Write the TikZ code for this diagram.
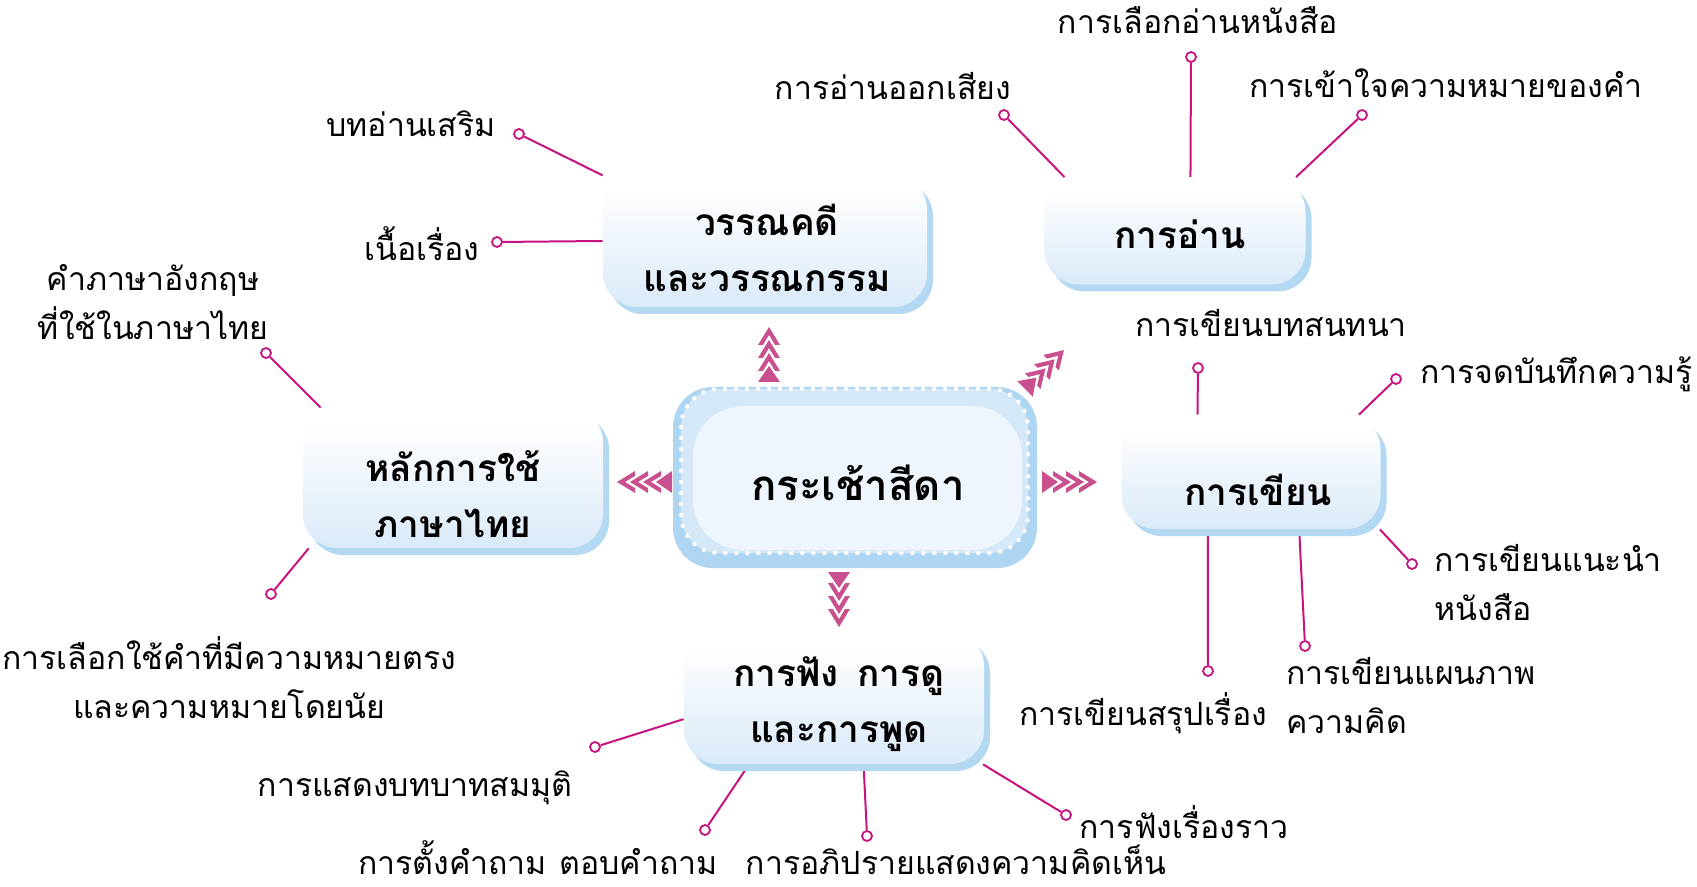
\documentclass[tikz,border=0pt]{standalone}
\usepackage{fontspec}
\newfontfamily\thai[Script=Thai]{Loma}
\usetikzlibrary{shadows,backgrounds,positioning}

\definecolor{spokepink}{HTML}{C8127F}
\definecolor{chevpink}{HTML}{C9508F}
\definecolor{boxlow}{HTML}{DAEAF8}
\definecolor{boxshade}{HTML}{B3D8F2}
\definecolor{ctrout}{HTML}{AED5F1}
\definecolor{ctrband}{HTML}{D4E8F7}
\definecolor{ctrin}{HTML}{EEF5FD}

% white on top, pale blue at the bottom
\pgfdeclareverticalshading{topicfade}{100bp}{color(0bp)=(boxlow); color(25bp)=(boxlow); color(70bp)=(white); color(100bp)=(white)}

\tikzset{
  topic/.style={rounded corners=17pt, shade, shading=topicfade,
    general shadow={fill=boxshade, shadow xshift=3pt, shadow yshift=-3.5pt}},
  topictext/.style={align=center, inner sep=0pt, font=\thai\bfseries\fontsize{18.5}{28}\selectfont},
  ctrtext/.style={inner sep=0pt, font=\thai\bfseries\fontsize{21}{26}\selectfont},
  lbl/.style={inner sep=0pt, align=center, font=\thai\fontsize{16}{24.5}\selectfont},
  dot/.style={circle, draw=spokepink, fill=white, line width=0.9pt, inner sep=0pt, minimum size=5pt},
  spoke/.style={draw=spokepink, line width=1pt},
  chevs/.pic={
    \fill[chevpink] (0,-11) -- (16,0) -- (0,11) -- cycle;
    \foreach \a in {11,24,37}
      \fill[chevpink] (\a,-11) -- (\a+18,0) -- (\a,11) -- (\a,6.1) -- (\a+10,0) -- (\a,-6.1) -- cycle;
  }
}

\begin{document}
\begin{tikzpicture}[x=0.5pt,y=-0.5pt]
\useasboundingbox (0,0) rectangle (1697,887);

% centre box
\fill[ctrout, rounded corners=20pt] (673,387) rectangle (1037,568);
\filldraw[fill=ctrband, draw=white, line width=2.2pt, dash pattern=on 0pt off 5.5pt, line cap=round, rounded corners=19pt] (681,389) rectangle (1028,553);
\fill[ctrin, rounded corners=25pt] (693,406) rectangle (1022,550);
\node[ctrtext] (ctr) at (858,483) {กระเช้าสีดา};

% topics
\node[topic, minimum width=162pt, minimum height=66pt] (lit) at (765,241) {};
\node[topic, minimum width=130.5pt, minimum height=53.5pt] (read) at (1175,231) {};
\node[topic, minimum width=150pt, minimum height=70pt] (lang) at (453,478) {};
\node[topic, minimum width=129.5pt, minimum height=57pt] (write) at (1251,472) {};
\node[topic, minimum width=150pt, minimum height=66pt] (talk) at (834,698) {};
\node[topictext] (lit-t) at (767,248) {วรรณคดี\\และวรรณกรรม};
\node[topictext] (read-t) at (1180,234) {การอ่าน};
\node[topictext] (lang-t) at (453,494) {หลักการใช้\\ภาษาไทย};
\node[topictext] (write-t) at (1258,490) {การเขียน};
\node[topictext] (talk-t) at (839,704) {การฟัง\hspace{0.5em}การดู\\และการพูด};

% chevrons
\pic[rotate=90] at (769,382) {chevs};
\pic[rotate=-90] at (839,572) {chevs};
\pic[rotate=180] at (672,482) {chevs};
\pic at (1042,482) {chevs};
\pic[rotate=45] at (1025,389) {chevs};

% end dots
\node[dot] (d-bt) at (519,134) {};
\node[dot] (d-nr) at (497,242) {};
\node[dot] (d-ao) at (1004,115) {};
\node[dot] (d-lk) at (1191,57) {};
\node[dot] (d-kk) at (1362,115) {};
\node[dot] (d-en) at (266,353) {};
\node[dot] (d-ch) at (271,594) {};
\node[dot] (d-bs) at (1198,368) {};
\node[dot] (d-jd) at (1396,379) {};
\node[dot] (d-nn) at (1412,564) {};
\node[dot] (d-pp) at (1305,646) {};
\node[dot] (d-sr) at (1208,671) {};
\node[dot] (d-bb) at (595,747) {};
\node[dot] (d-tk) at (705,830) {};
\node[dot] (d-op) at (867,836) {};
\node[dot] (d-fr) at (1066,815) {};

% labels
\node[lbl] (l-bt) at (411,124) {บทอ่านเสริม};
\node[lbl] (l-nr) at (422,244) {เนื้อเรื่อง};
\node[lbl] (l-ao) at (893,86) {การอ่านออกเสียง};
\node[lbl] (l-lk) at (1198,20) {การเลือกอ่านหนังสือ};
\node[lbl] (l-kk) at (1446,83) {การเข้าใจความหมายของคำ};
\node[lbl] (l-en) at (153,302) {คำภาษาอังกฤษ\\ที่ใช้ในภาษาไทย};
\node[lbl, anchor=west] (l-ch) at (2,678) {การเลือกใช้คำที่มีความหมายตรง\\และความหมายโดยนัย};
\node[lbl] (l-bs) at (1271,323) {การเขียนบทสนทนา};
\node[lbl, anchor=west] (l-jd) at (1420,374) {การจดบันทึกความรู้};
\node[lbl, anchor=west, align=left] (l-nn) at (1434,583) {การเขียนแนะนำ\\หนังสือ};
\node[lbl, anchor=west, align=left] (l-pp) at (1286,696) {การเขียนแผนภาพ\\ความคิด};
\node[lbl] (l-sr) at (1143,713) {การเขียนสรุปเรื่อง};
\node[lbl] (l-bb) at (415,788) {การแสดงบทบาทสมมุติ};
\node[lbl] (l-tk) at (538,858) {การตั้งคำถาม\hspace{0.4em}ตอบคำถาม};
\node[lbl] (l-op) at (956,860) {การอภิปรายแสดงความคิดเห็น};
\node[lbl] (l-fr) at (1184,822) {การฟังเรื่องราว};

% spokes
\begin{scope}[on background layer]
\draw[spoke] (lit.158) -- (d-bt);
\draw[spoke] (lit.180) -- (d-nr);
\draw[spoke] (read.154) -- (d-ao);
\draw[spoke] (read.74) -- (d-lk);
\draw[spoke] (read.24) -- (d-kk);
\draw[spoke] (lang.152) -- (d-en);
\draw[spoke] (lang.206) -- (d-ch);
\draw[spoke] (write.133) -- (d-bs);
\draw[spoke] (write.28) -- (d-jd);
\draw[spoke] (write.336) -- (d-nn);
\draw[spoke] (write.310) -- (d-pp);
\draw[spoke] (write.233) -- (d-sr);
\draw[spoke] (talk.188) -- (d-bb);
\draw[spoke] (talk.218) -- (d-tk);
\draw[spoke] (talk.294) -- (d-op);
\draw[spoke] (talk.336) -- (d-fr);
\end{scope}
\end{tikzpicture}
\end{document}
